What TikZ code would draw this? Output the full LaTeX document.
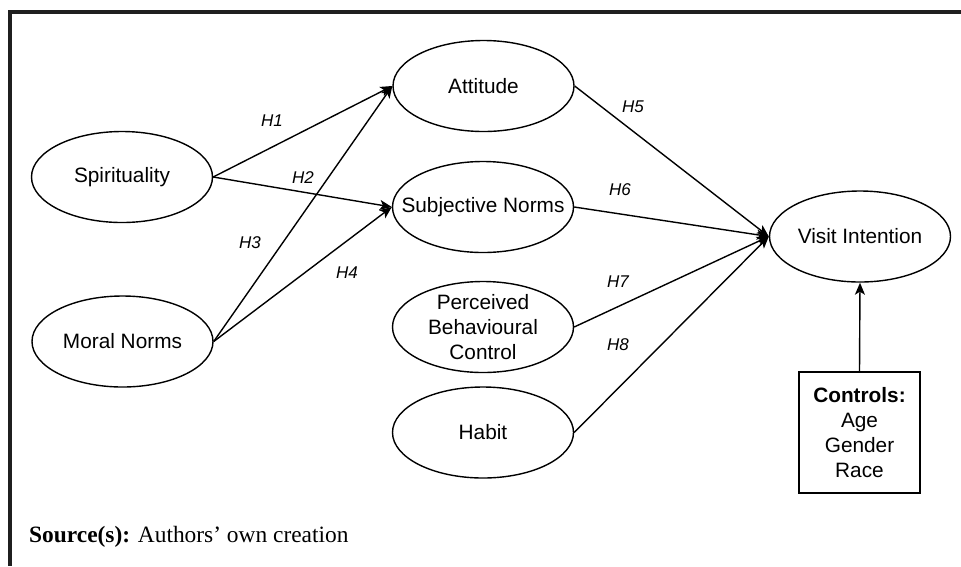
\documentclass[tikz,border=0pt]{standalone}
\usepackage{fontspec}
\setmainfont{Liberation Sans}
\newfontfamily\srcfont{Liberation Serif}
\usetikzlibrary{shapes.geometric,arrows.meta}
\begin{document}
\begin{tikzpicture}[x=1pt,y=-1pt,
  oval/.style={draw, line width=1.4pt, ellipse, inner sep=0pt, minimum width=181pt, minimum height=91pt},
  ovtxt/.style={font=\fontsize{20.8}{25.3}\selectfont, align=center, inner sep=0pt},
  arr/.style={line width=1.4pt, -{Stealth[length=12pt,width=10pt,inset=3pt]}},
  hyp/.style={font=\fontsize{17}{20}\selectfont\itshape, inner sep=0pt},
  ctrlbox/.style={draw, line width=1.4pt, rectangle, minimum width=121pt, minimum height=121pt, inner sep=0pt, align=center, font=\fontsize{20.8}{25}\selectfont},
  frame/.style={line width=4pt, draw=black!88, line join=miter}
]
\useasboundingbox (0,0) rectangle (961,566);
\draw[frame] (961,12) -- (9.5,12) -- (9.5,566);

\node[oval, label={[ovtxt]center:Spirituality}] (sp) at (122,177) {};
\node[oval, label={[ovtxt]center:Moral Norms}] (mn) at (122.5,341.5) {};
\node[oval, label={[ovtxt]center:Attitude}] (att) at (483.5,86) {};
\node[oval, label={[ovtxt]center:Subjective Norms}] (sn) at (483,207) {};
\node[oval, label={[ovtxt]center:Perceived\\Behavioural\\Control}] (pbc) at (483,327) {};
\node[oval, label={[ovtxt]center:Habit}] (hab) at (483,432.5) {};
\node[oval, label={[ovtxt]center:Visit Intention}] (vi) at (860,236.5) {};
\node[ctrlbox] (ctrl) at (859.5,432.5) {\textbf{Controls:}\\Age\\Gender\\Race};

\draw[arr] (sp.east) -- (att.west);
\draw[arr] (sp.east) -- (sn.west);
\draw[arr] (mn.east) -- (att.west);
\draw[arr] (mn.east) -- (sn.west);
\draw[arr] (att.east) -- (vi.west);
\draw[arr] (sn.east) -- (vi.west);
\draw[arr] (pbc.east) -- (vi.west);
\draw[arr] (hab.east) -- (vi.west);
\draw[arr] (ctrl.north) -- (vi.south);

\node[hyp] (h1) at (272,121) {H1};
\node[hyp] (h2) at (303,178) {H2};
\node[hyp] (h3) at (250,243) {H3};
\node[hyp] (h4) at (347,273) {H4};
\node[hyp] (h5) at (633,107) {H5};
\node[hyp] (h6) at (620,190) {H6};
\node[hyp] (h7) at (618,282) {H7};
\node[hyp] (h8) at (618,345) {H8};

\node[anchor=base west, inner sep=0pt, font=\srcfont\fontsize{23.4}{28}\selectfont] (src) at (29,542) {\textbf{Source(s):} Authors’ own creation};
\end{tikzpicture}
\end{document}
